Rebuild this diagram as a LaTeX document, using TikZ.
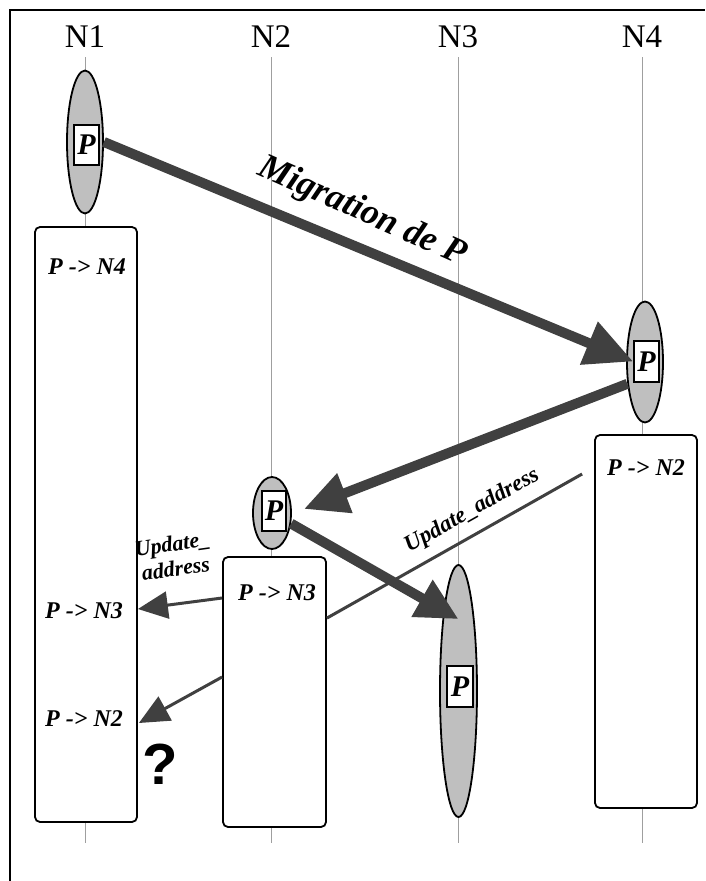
\documentclass[tikz,border=0pt]{standalone}
\usepackage{fontspec}
\setmainfont{Liberation Serif}
\newfontfamily\qfont{Liberation Sans}
\usetikzlibrary{shapes,arrows.meta,positioning,calc}
\definecolor{arrowgray}{HTML}{404040}
\definecolor{procgray}{HTML}{BFBFBF}
\tikzset{
  lifeline/.style={draw=gray!75, line width=0.8pt},
  sitelabel/.style={font=\fontsize{33}{36}\selectfont, inner sep=0pt},
  proc/.style={ellipse, draw, line width=1.8pt, fill=procgray, inner sep=0pt},
  pbox/.style={rectangle, draw, line width=1.6pt, fill=white, inner sep=0pt,
               minimum width=25pt, minimum height=40pt,
               font=\fontsize{30}{30}\selectfont\bfseries\itshape},
  addrtable/.style={rectangle, rounded corners=5pt, draw, line width=1.8pt,
                    fill=white, minimum width=102pt},
  entry/.style={font=\fontsize{24}{26}\selectfont\bfseries\itshape, inner sep=0pt},
  migr/.style={line width=10pt, arrowgray, -{Triangle[length=48pt,width=44pt]}},
  upd/.style={line width=3pt, arrowgray, -{Triangle[length=30pt,width=27pt]}},
  updline/.style={line width=3pt, arrowgray},
  msglabel/.style={font=\fontsize{#1}{#1}\selectfont\bfseries\itshape, inner sep=0pt},
}

\begin{document}
\begin{tikzpicture}[x=1pt, y=-1pt]
\useasboundingbox (0,0) rectangle (705,881);

% frame
\draw[line width=2pt] (10,881) -- (10,10) -- (705,10);

% -------------------- Sites and lifelines --------------------
\foreach \name/\x in {N1/85,N2/271,N3/458,N4/642} {
  \node[sitelabel] (\name) at (\x,37) {\name};
  \draw[lifeline] (\x,57) -- (\x,843);
}

% -------------------- N1 --------------------
\node[proc, minimum width=36pt, minimum height=143pt] (ell1) at (85,142) {};
\node[pbox] (pb1) at (86.5,145) {P};
\node[addrtable, minimum height=595pt] (tab1) at (86,524.5) {};
\node[entry] (t14) at (87,267) {P -> N4};
\node[entry] (t13) at (84,611) {P -> N3};
\node[entry] (t12) at (84,719) {P -> N2};
\node[font=\qfont\bfseries\fontsize{58}{60}\selectfont, inner sep=0pt] (ques) at (160,764) {?};

% -------------------- N4 --------------------
\node[proc, minimum width=36pt, minimum height=121pt] (ell4) at (645,362) {};
\node[pbox, minimum height=41pt] (pb4) at (646.5,361.5) {P};
\node[addrtable, minimum height=373pt] (tab4) at (646,621.5) {};
\node[entry] (t42) at (646,468) {P -> N2};

% -------------------- N2 --------------------
\node[proc, minimum width=38pt, minimum height=72pt] (ell2) at (272,513) {};
\node[pbox, minimum width=24pt] (pb2) at (274,511) {P};
\node[addrtable, minimum width=103pt, minimum height=270pt] (tab2) at (274.5,692) {};
\node[entry] (t23) at (277,593) {P -> N3};

% -------------------- N3 --------------------
\node[proc, minimum width=37pt, minimum height=252pt] (ell3) at (458.5,691) {};
\node[pbox, minimum width=26pt, minimum height=41pt] (pb3) at (460,686.5) {P};

% -------------------- Migrations --------------------
\draw[migr] (ell1.east) -- (pb4.west);
\node[msglabel=36, rotate=-24] (mlab) at (362,212) {Migration de P};

\draw[migr, -{Triangle[length=44pt,width=40pt]}] (ell4.231) -- ($(ell2.east)+(12,-4)$);
\draw[migr, -{Triangle[length=42pt,width=40pt]}] (ell2.-29) -- ($(ell3.north)+(0,55)$);

% -------------------- Address updates --------------------
\draw[updline] ($(tab4.west |- t42)+(-12,6)$) -- ($(tab2.north east)+(0,62)$);
\node[msglabel=23, rotate=29.4] (ulab) at (472,511) {Update\_address};

\draw[upd] ($(tab2.west |- t23)+(0,5)$) -- ($(tab1.east |- t13)+(0,-2)$);
\draw[upd] ($(tab2.west)+(0,-15)$) -- ($(tab1.east |- t12)+(1,4)$);
\node[msglabel=22, rotate=8, align=center] (ulab2) at (174,556) {Update\_\\[3pt]address};

\end{tikzpicture}
\end{document}
